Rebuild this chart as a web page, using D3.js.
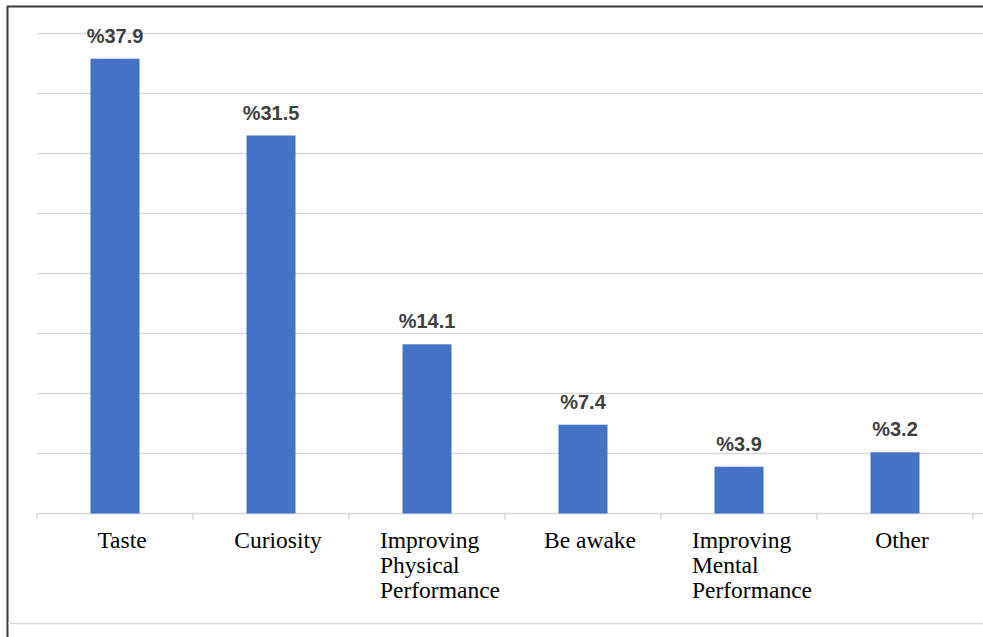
<!DOCTYPE html>
<html>
<head>
<meta charset="utf-8">
<script src="https://cdn.jsdelivr.net/npm/d3@7"></script>
<style>
html,body{margin:0;padding:0;background:#fff;}
svg{display:block;}
</style>
</head>
<body>
<svg id="chart" width="983" height="637"></svg>
<script>
const categories = [
  ["Taste"],
  ["Curiosity"],
  ["Improving", "Physical", "Performance"],
  ["Be awake"],
  ["Improving", "Mental", "Performance"],
  ["Other"]
];
const values = [37.9, 31.5, 14.1, 7.4, 3.9, 5.1];
const valueLabels = ["%37.9", "%31.5", "%14.1", "%7.4", "%3.9", "%3.2"];
const yTicks = [0, 5, 10, 15, 20, 25, 30, 35, 40];

const svg = d3.select("#chart");
const W = 983, H = 637;
const plot = {left: 37, right: 973, top: 33.5, bottom: 513.5};

const x = d3.scaleBand()
  .domain(d3.range(categories.length))
  .range([plot.left, plot.right])
  .paddingInner(0.686)
  .paddingOuter(0.343);

const y = d3.scaleLinear().domain([0, 40]).range([plot.bottom, plot.top]);

// frame
svg.append("line").attr("x1", 7).attr("x2", W).attr("y1", 6.5).attr("y2", 6.5)
  .attr("stroke", "#3a3a3a").attr("stroke-width", 2);
svg.append("line").attr("x1", 7.5).attr("x2", 7.5).attr("y1", 6).attr("y2", H)
  .attr("stroke", "#3a3a3a").attr("stroke-width", 2);
svg.append("line").attr("x1", 8).attr("x2", W).attr("y1", 623.5).attr("y2", 623.5)
  .attr("stroke", "#d9d9d9").attr("stroke-width", 1.5);

// gridlines
svg.append("g").selectAll("line").data(yTicks.slice(1)).join("line")
  .attr("x1", plot.left).attr("x2", W)
  .attr("y1", d => y(d)).attr("y2", d => y(d))
  .attr("stroke", "#d9d9d9").attr("stroke-width", 1.5);

// x axis baseline + ticks
const xEdges = d3.range(categories.length + 1).map(i => plot.left + i * x.step());
svg.append("line").attr("x1", plot.left).attr("x2", W)
  .attr("y1", y(0)).attr("y2", y(0))
  .attr("stroke", "#d9d9d9").attr("stroke-width", 1.5);
svg.append("g").selectAll("line").data(xEdges).join("line")
  .attr("x1", d => d).attr("x2", d => d)
  .attr("y1", y(0)).attr("y2", y(0) + 6)
  .attr("stroke", "#d9d9d9").attr("stroke-width", 1.5);

// bars
svg.append("g").selectAll("rect").data(values).join("rect")
  .attr("x", (d, i) => x(i))
  .attr("width", x.bandwidth())
  .attr("y", d => y(d))
  .attr("height", d => y(0) - y(d))
  .attr("fill", "#4472C4");

// value labels
svg.append("g").selectAll("text").data(values).join("text")
  .attr("x", (d, i) => x(i) + x.bandwidth() / 2)
  .attr("y", d => y(d) - 16)
  .attr("text-anchor", "middle")
  .attr("font-family", "'Liberation Sans', Arial, sans-serif")
  .attr("font-weight", "bold")
  .attr("font-size", 20)
  .attr("fill", "#404040")
  .text((d, i) => valueLabels[i]);

// category labels
const catG = svg.append("g")
  .attr("font-family", "'Liberation Serif', 'Times New Roman', serif")
  .attr("font-size", 23.5)
  .attr("fill", "#000");
categories.forEach((lines, i) => {
  const cx = x(i) + x.bandwidth() / 2 + 7;
  const t = catG.append("text").attr("y", 548);
  if (lines.length === 1) {
    t.attr("x", cx).attr("text-anchor", "middle");
    t.append("tspan").attr("x", cx).text(lines[0]);
  } else {
    const tmp = catG.append("text").text(lines.reduce((a, b) => b.length > a.length ? b : a));
    const w = tmp.node().getComputedTextLength();
    tmp.remove();
    const lx = cx + 6 - w / 2;
    lines.forEach((ln, k) => {
      t.append("tspan").attr("x", lx).attr("dy", k === 0 ? 0 : 25).text(ln);
    });
  }
});
</script>
</body>
</html>
